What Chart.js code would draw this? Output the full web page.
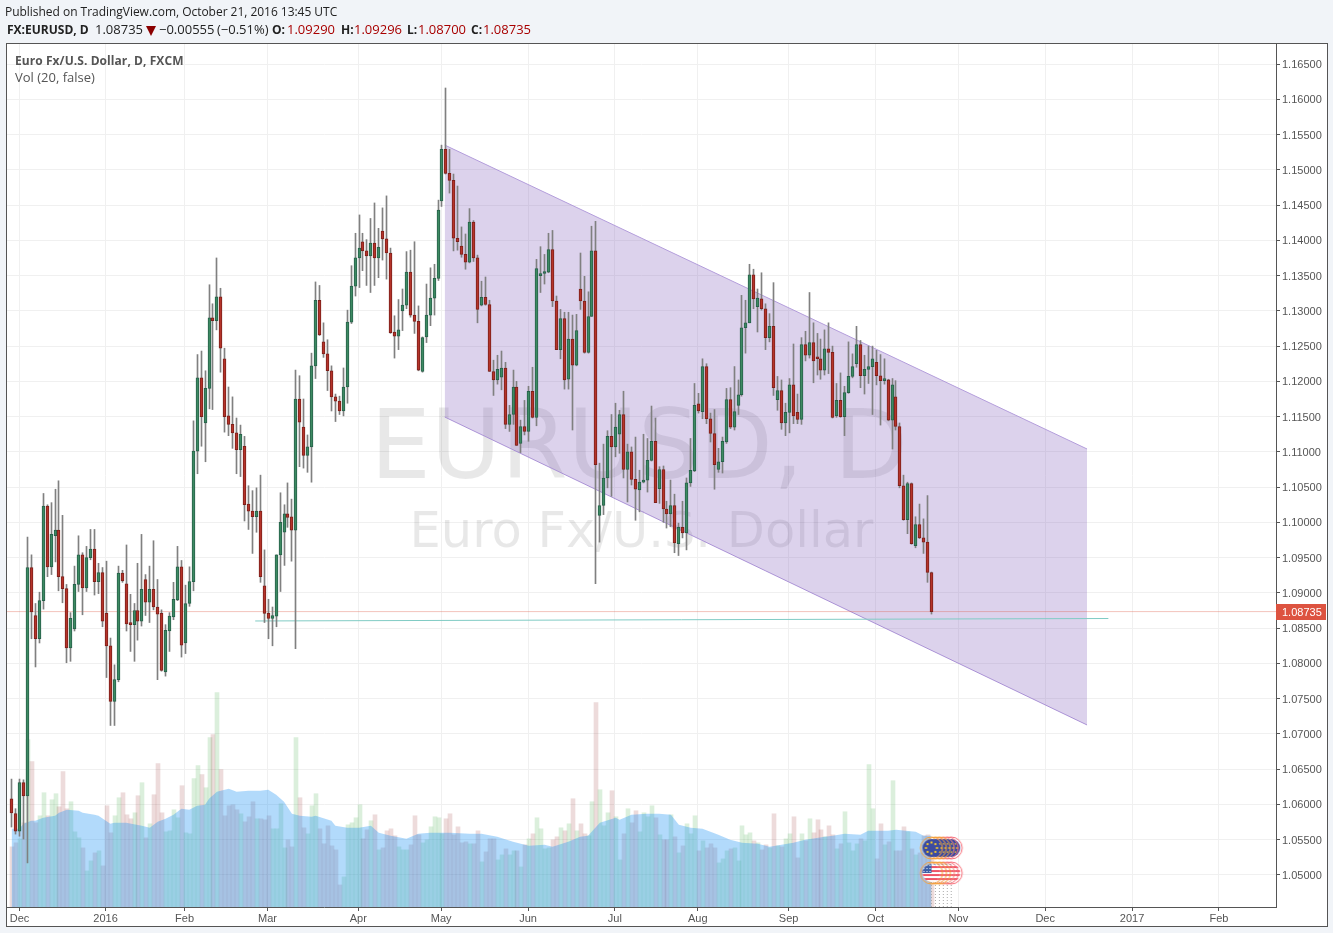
<!DOCTYPE html>
<html>
<head>
<meta charset="utf-8">
<title>EURUSD</title>
<script src="https://cdn.jsdelivr.net/npm/chart.js@4"></script>
<style>
  html, body { margin: 0; padding: 0; background: #f1f4f8; }
  body { width: 1333px; height: 933px; overflow: hidden; position: relative; font-family: "Open Sans", sans-serif; }
  #frame { position: absolute; left: 6px; top: 43px; width: 1320px; height: 882px; border: 1px solid #555; background: #fff; }
  #myChart { position: absolute; left: 0; top: 0; }
  .line { position: absolute; white-space: nowrap; font-size: 12px; color: #222; }
  .num { font-size: 13px; top: 20px; }
  .lab { font-weight: bold; top: 21px; }
  .red { color: #a80000; }
  .legend { color: #555; }
  #arrow { position: absolute; left: 146px; top: 26px; width: 0; height: 0; border-left: 5px solid transparent; border-right: 5px solid transparent; border-top: 10px solid #8b0000; }
</style>
</head>
<body>
<div id="frame"></div>
<canvas id="myChart" width="1333" height="933"></canvas>
<div class="line" style="left:5px;top:3px;letter-spacing:-0.03px">Published on TradingView.com, October 21, 2016 13:45 UTC</div>
<div class="line lab" style="left:7px">FX:EURUSD, D</div>
<div class="line num" style="left:95px">1.08735</div>
<div id="arrow"></div>
<div class="line num" style="left:159px">&minus;0.00555</div>
<div class="line num" style="left:217px">(&minus;0.51%)</div>
<div class="line lab" style="left:272px">O:</div>
<div class="line num red" style="left:287px">1.09290</div>
<div class="line lab" style="left:341px">H:</div>
<div class="line num red" style="left:354px">1.09296</div>
<div class="line lab" style="left:407px">L:</div>
<div class="line num red" style="left:418px">1.08700</div>
<div class="line lab" style="left:471px">C:</div>
<div class="line num red" style="left:483px">1.08735</div>
<div class="line legend" style="left:15px;top:52px;letter-spacing:0.07px"><b>Euro Fx/U.S. Dollar, D, FXCM</b></div>
<div class="line legend" style="left:15px;top:68px;font-size:13px">Vol (20, false)</div>

<script>
// daily bars
const opens = [
1.0608,1.0587,1.0562,1.0631,1.0612,1.0936,1.0868,1.0835,1.0889,1.1023,
1.0937,1.0981,1.0989,1.0923,1.0906,1.0822,1.0849,1.0912,1.0954,1.0907,
1.0950,1.0962,1.0916,1.0929,1.0871,1.0825,1.0746,1.0777,1.0928,1.0913,
1.0857,1.0855,1.0875,1.0860,1.0919,1.0887,1.0905,1.0880,1.0871,1.0788,
1.0846,1.0866,1.0890,1.0937,1.0829,1.0885,1.0916,1.1101,1.1205,1.1141,
1.1190,1.1290,1.1286,1.1320,1.1232,1.1151,1.1139,1.1127,1.1103,1.1108,
1.1026,1.1016,1.1008,1.1016,1.0910,1.0871,1.0864,1.0867,1.0954,1.0986,
1.1012,1.1008,1.0989,1.1175,1.1135,1.1095,1.1107,1.1222,1.1315,1.1256,
1.1239,1.1215,1.1178,1.1172,1.1158,1.1192,1.1284,1.1335,1.1375,1.1398,
1.1385,1.1378,1.1396,1.1375,1.1413,1.1402,1.1382,1.1270,1.1264,1.1300,
1.1308,1.1355,1.1294,1.1285,1.1214,1.1263,1.1294,1.1318,1.1346,1.1456,
1.1529,1.1495,1.1485,1.1403,1.1392,1.1380,1.1369,1.1426,1.1375,1.1308,
1.1319,1.1309,1.1214,1.1202,1.1206,1.1219,1.1139,1.1153,1.1192,1.1112,
1.1136,1.1129,1.1186,1.1149,1.1350,1.1353,1.1355,1.1387,1.1314,1.1245,
1.1289,1.1203,1.1260,1.1223,1.1331,1.1314,1.1241,1.1292,1.1385,1.1010,
1.1024,1.1063,1.1122,1.1107,1.1125,1.1153,1.1075,1.1100,1.1061,1.1046,
1.1057,1.1060,1.1088,1.1115,1.1048,1.1075,1.1019,1.1012,1.1024,1.0970,
1.0993,1.0985,1.1056,1.1073,1.1168,1.1157,1.1221,1.1147,1.1126,1.1075,
1.1086,1.1114,1.1174,1.1135,1.1166,1.1181,1.1276,1.1283,1.1351,1.1306,
1.1317,1.1303,1.1262,1.1278,1.1174,1.1187,1.1141,1.1156,1.1195,1.1156,
1.1146,1.1252,1.1237,1.1255,1.1234,1.1232,1.1216,1.1246,1.1241,1.1151,
1.1173,1.1150,1.1184,1.1207,1.1225,1.1252,1.1208,1.1217,1.1221,1.1227,
1.1208,1.1201,1.1202,1.1145,1.1178,1.1136,1.1052,1.1004,1.1055,1.0967,
1.0997,1.0978,1.0972,1.0929];
const closes = [
1.0588,1.0562,1.0631,1.0612,1.0936,1.0873,1.0835,1.0889,1.1023,1.0937,
1.0983,1.0989,1.0923,1.0906,1.0822,1.0864,1.0912,1.0954,1.0907,1.0950,
1.0962,1.0916,1.0929,1.0860,1.0825,1.0746,1.0777,1.0928,1.0917,1.0856,
1.0855,1.0875,1.0860,1.0905,1.0887,1.0905,1.0880,1.0870,1.0790,1.0847,
1.0867,1.0891,1.0937,1.0826,1.0885,1.0916,1.1101,1.1205,1.1150,1.1190,
1.1290,1.1286,1.1320,1.1247,1.1150,1.1139,1.1127,1.1103,1.1125,1.1025,
1.1016,1.1008,1.1016,1.0923,1.0871,1.0864,1.0868,1.0954,1.1000,1.1012,
1.1007,1.0989,1.1175,1.1142,1.1095,1.1107,1.1222,1.1315,1.1266,1.1239,
1.1215,1.1178,1.1172,1.1158,1.1192,1.1284,1.1335,1.1375,1.1389,1.1385,
1.1378,1.1396,1.1375,1.1390,1.1402,1.1382,1.1269,1.1264,1.1273,1.1308,
1.1355,1.1294,1.1285,1.1216,1.1262,1.1294,1.1318,1.1346,1.1443,1.1529,
1.1495,1.1485,1.1403,1.1398,1.1380,1.1369,1.1426,1.1375,1.1302,1.1319,
1.1309,1.1214,1.1202,1.1217,1.1219,1.1139,1.1153,1.1192,1.1109,1.1136,
1.1129,1.1186,1.1149,1.1360,1.1353,1.1355,1.1387,1.1314,1.1245,1.1289,
1.1202,1.1260,1.1223,1.1272,1.1314,1.1241,1.1292,1.1385,1.1082,1.1024,
1.1063,1.1122,1.1107,1.1135,1.1153,1.1075,1.1100,1.1061,1.1047,1.1057,
1.1060,1.1088,1.1115,1.1028,1.1075,1.1019,1.1012,1.1024,1.0971,1.0993,
1.0985,1.1056,1.1074,1.1166,1.1158,1.1221,1.1147,1.1126,1.1082,1.1086,
1.1115,1.1174,1.1135,1.1157,1.1181,1.1276,1.1283,1.1351,1.1317,1.1318,
1.1303,1.1262,1.1278,1.1191,1.1187,1.1141,1.1156,1.1195,1.1151,1.1146,
1.1252,1.1237,1.1255,1.1229,1.1232,1.1216,1.1246,1.1241,1.1149,1.1173,
1.1150,1.1184,1.1207,1.1221,1.1252,1.1208,1.1217,1.1221,1.1232,1.1208,
1.1201,1.1202,1.1145,1.1195,1.1136,1.1052,1.1004,1.1055,1.0970,1.0997,
1.0978,1.0972,1.0929,1.08735];
const highs = [
1.0636,1.0594,1.0636,1.0635,1.0979,1.0954,1.0885,1.0901,1.1041,1.1025,
1.1028,1.1047,1.1059,1.1010,1.0912,1.0872,1.0938,1.0981,1.0957,1.0966,
1.0990,1.0990,1.0942,1.0936,1.0945,1.0836,1.0798,1.0938,1.0932,1.0968,
1.0898,1.0885,1.0942,1.0983,1.0926,1.0938,1.0974,1.0919,1.0876,1.0855,
1.0872,1.0915,1.0966,1.0946,1.0911,1.0937,1.1144,1.1238,1.1243,1.1215,
1.1337,1.1310,1.1375,1.1332,1.1247,1.1192,1.1178,1.1148,1.1138,1.1122,
1.1052,1.1045,1.1049,1.1067,1.0961,1.0891,1.0880,1.0954,1.1042,1.1025,
1.1056,1.1033,1.1216,1.1208,1.1175,1.1124,1.1240,1.1341,1.1336,1.1283,
1.1259,1.1222,1.1182,1.1179,1.1219,1.1301,1.1364,1.1410,1.1436,1.1410,
1.1401,1.1431,1.1453,1.1417,1.1446,1.1463,1.1389,1.1293,1.1316,1.1331,
1.1384,1.1386,1.1398,1.1307,1.1263,1.1338,1.1361,1.1366,1.1457,1.1535,
1.1616,1.1529,1.1494,1.1477,1.1419,1.1409,1.1445,1.1428,1.1379,1.1342,
1.1348,1.1315,1.1230,1.1237,1.1243,1.1227,1.1166,1.1216,1.1200,1.1145,
1.1173,1.1193,1.1220,1.1373,1.1391,1.1380,1.1410,1.1414,1.1321,1.1302,
1.1298,1.1298,1.1294,1.1295,1.1382,1.1349,1.1327,1.1420,1.1427,1.1084,
1.1111,1.1130,1.1153,1.1169,1.1159,1.1186,1.1111,1.1107,1.1121,1.1074,
1.1125,1.1119,1.1165,1.1148,1.1079,1.1080,1.1030,1.1060,1.1040,1.0999,
1.1030,1.1063,1.1119,1.1197,1.1183,1.1232,1.1225,1.1155,1.1160,1.1105,
1.1121,1.1190,1.1191,1.1221,1.1202,1.1322,1.1315,1.1366,1.1359,1.1331,
1.1354,1.1310,1.1296,1.1340,1.1207,1.1202,1.1169,1.1204,1.1253,1.1182,
1.1262,1.1271,1.1326,1.1283,1.1268,1.1260,1.1273,1.1283,1.1250,1.1197,
1.1212,1.1193,1.1256,1.1239,1.1278,1.1258,1.1237,1.1250,1.1250,1.1244,
1.1238,1.1232,1.1203,1.1204,1.1201,1.1141,1.1067,1.1057,1.1056,1.1008,
1.1026,1.1005,1.1038,1.09296];
const lows = [
1.0568,1.0558,1.0555,1.0551,1.0517,1.0835,1.0795,1.0829,1.0877,1.0923,
1.0926,1.0944,1.0903,1.0886,1.0801,1.0803,1.0846,1.0902,1.0869,1.0902,
1.0947,1.0897,1.0899,1.0852,1.0780,1.0712,1.0712,1.0774,1.0915,1.0846,
1.0817,1.0803,1.0833,1.0853,1.0868,1.0858,1.0876,1.0777,1.0789,1.0782,
1.0817,1.0862,1.0889,1.0809,1.0814,1.0881,1.0903,1.1069,1.1108,1.1086,
1.1161,1.1160,1.1273,1.1213,1.1128,1.1123,1.1105,1.1069,1.1065,1.1002,
1.0990,1.0956,1.0986,1.0915,1.0858,1.0835,1.0825,1.0852,1.0902,1.0939,
1.0993,1.0945,1.0821,1.1079,1.1077,1.1071,1.1057,1.1204,1.1265,1.1234,
1.1187,1.1158,1.1143,1.1153,1.1151,1.1169,1.1282,1.1321,1.1333,1.1357,
1.1336,1.1326,1.1336,1.1347,1.1372,1.1345,1.1268,1.1233,1.1245,1.1272,
1.1303,1.1291,1.1268,1.1215,1.1213,1.1255,1.1279,1.1294,1.1343,1.1448,
1.1494,1.1467,1.1385,1.1386,1.1376,1.1359,1.1368,1.1370,1.1283,1.1307,
1.1308,1.1214,1.1180,1.1196,1.1188,1.1133,1.1129,1.1139,1.1109,1.1099,
1.1124,1.1115,1.1148,1.1137,1.1326,1.1338,1.1354,1.1306,1.1245,1.1232,
1.1189,1.1189,1.1131,1.1222,1.1302,1.1240,1.1240,1.1292,1.0913,1.0972,
1.1011,1.1049,1.1037,1.1093,1.1098,1.1063,1.1029,1.1053,1.1003,1.1015,
1.1056,1.1043,1.1087,1.1028,1.1027,1.1000,1.0992,1.0994,1.0957,1.0953,
1.0978,1.0961,1.1051,1.1072,1.1155,1.1147,1.1140,1.1114,1.1047,1.1071,
1.1070,1.1112,1.1133,1.1131,1.1153,1.1179,1.1240,1.1283,1.1303,1.1270,
1.1301,1.1245,1.1256,1.1180,1.1159,1.1132,1.1123,1.1127,1.1140,1.1140,
1.1139,1.1229,1.1233,1.1198,1.1209,1.1203,1.1209,1.1211,1.1148,1.1149,
1.1149,1.1123,1.1183,1.1205,1.1220,1.1191,1.1182,1.1197,1.1153,1.1195,
1.1138,1.1196,1.1144,1.1104,1.1131,1.1049,1.1003,1.0984,1.0969,1.0964,
1.0977,1.0956,1.0915,1.0870];
// volume, thousands (no scale on the picture, so relative)
const volumes = [
60,64,68,84,167,145,84,91,114,91,
107,113,100,135,98,105,75,69,59,36,
46,54,56,41,101,74,91,109,114,92,
88,94,111,124,69,83,112,143,94,75,
76,97,89,121,74,73,128,141,132,119,
169,172,214,137,91,101,102,97,93,85,
90,105,88,88,87,91,78,78,103,59,
67,60,169,109,79,73,101,113,78,63,
81,61,57,22,30,82,84,89,102,68,
77,86,92,57,59,76,78,71,60,57,
57,62,91,72,64,67,80,90,89,73,
88,93,72,80,64,65,63,63,76,45,
55,68,68,47,52,58,52,56,56,40,
62,68,73,89,78,58,59,67,70,79,
76,83,108,76,83,73,71,105,204,117,
81,94,116,90,47,73,98,84,96,75,
94,90,101,89,72,67,67,92,70,54,
61,83,73,91,56,66,59,63,59,44,
48,56,58,59,46,81,72,74,66,64,
57,62,59,93,61,60,68,73,90,49,
73,66,88,74,87,77,70,81,72,58,
63,95,64,56,63,68,66,142,98,48,
83,62,65,126,56,56,80,75,58,52,
54,71,72,56];
// volume average, read at these bars
const smaBars = [0,2,3,5,6,8,11,12,14,17,18,21,22,25,26,29,33,35,37,39,41,43,45,47,49,50,52,55,57,60,63,65,67,69,71,73,76,77,81,82,85,88,91,93,96,100,103,106,111,116,119,123,127,131,135,137,141,144,146,149,153,154,157,161,164,167,169,172,175,179,182,185,189,192,195,198,201,206,208,211,215,217,222,224,229,231,233];
const smaValues = [78,78,83,86,86,89,91,94,97,96,94,92,91,83,84,84,81,79,85,88,92,98,97,101,102,108,115,118,115,116,116,117,112,105,93,91,90,91,86,81,79,79,81,74,71,68,73,74,74,73,73,70,65,61,62,60,65,70,71,84,89,87,92,93,93,92,82,79,78,72,67,64,63,60,62,64,67,70,71,73,72,76,76,77,75,71,71];

const priceTicks = [1.05,1.055,1.06,1.065,1.07,1.075,1.08,1.085,1.09,1.095,1.1,1.105,1.11,1.115,1.12,1.125,1.13,1.135,1.14,1.145,1.15,1.155,1.16,1.165];
const monthBars = [2,23.8,43.8,64.8,87.8,108.8,130.8,152.8,173.8,196.8,218.8,239.8,261.8,283.8,305.8];
const monthLabels = ["Dec","2016","Feb","Mar","Apr","May","Jun","Jul","Aug","Sep","Oct","Nov","Dec","2017","Feb"];

// hand drawn objects on the chart
const channelBars = [109.7,272.4];
const channelTop = [1.15351,1.11041];
const channelBottom = [1.11494,1.07127];
const supportBars = [61.7,277.8];
const supportPrices = [1.08602,1.08637];
const lastPrice = 1.08735;
const eventBars = [233,234,235,236,237,238];
const euEventPrice = 1.05383;
const usEventPrice = 1.05028;

const xFrom = -1.17;
const xTo = 320.26;
const priceFrom = 1.04546;
const priceTo = 1.16784;

const upBody = "#3d8a62", upEdge = "#26604a";
const downBody = "#b5342a", downEdge = "#7c1f1a";

const bars = opens.map((o, i) => i);
const isUp = i => closes[i] >= opens[i];

function makeFlag(kind, ring) {
  const c = document.createElement("canvas");
  c.width = 26; c.height = 26;
  const g = c.getContext("2d");
  g.beginPath();
  g.arc(13, 13, 9, 0, Math.PI * 2);
  g.save();
  g.clip();
  if (kind == "eu") {
    g.fillStyle = "#3c4ba0";
    g.fillRect(0, 0, 26, 26);
    g.fillStyle = "#f0c52e";
    for (let k = 0; k < 8; k++) {
      const a = k * Math.PI / 4;
      g.fillRect(12 + Math.cos(a) * 5.5, 12 + Math.sin(a) * 5.5, 2, 2);
    }
  } else {
    g.fillStyle = "#fff";
    g.fillRect(0, 0, 26, 26);
    g.fillStyle = "#ee5366";
    for (let k = 0; k < 4; k++) g.fillRect(0, 6 + k * 4, 26, 2);
    g.fillStyle = "#3c5fa8";
    g.fillRect(3, 3, 10, 10);
    g.fillStyle = "#fff";
    for (let a = 0; a < 3; a++) for (let b = 0; b < 3; b++) g.fillRect(5 + a * 3, 5 + b * 3, 1, 1);
  }
  g.restore();
  g.beginPath();
  g.arc(13, 13, 11, 0, Math.PI * 2);
  g.lineWidth = 1;
  g.strokeStyle = ring;
  g.stroke();
  return c;
}

// leftmost flag goes on top, so the list runs right to left
const ringColors = ["#f5a03c","#f5a03c","#f5a03c","#f78a7a","#f7707a","#f7707a"];
const flagOrder = eventBars.map((b, i) => i).reverse();
const euFlags = flagOrder.map(i => makeFlag("eu", ringColors[i]));
const usFlags = flagOrder.map(i => makeFlag("us", ringColors[i]));

// bars land on whole pixels in the original, wicks would go blurry otherwise
const snapBars = {
  id: "snapBars",
  afterDatasetsUpdate(chart) {
    chart.getSortedVisibleDatasetMetas().forEach(meta => {
      if (meta.type != "bar") return;
      const volume = meta.yAxisID == "yVol";
      meta.data.forEach(el => {
        el.x = Math.floor(el.x) + (volume ? 1 : 0.5);
      });
    });
  }
};

const watermark = {
  id: "watermark",
  beforeDatasetsDraw(chart) {
    const ctx = chart.ctx;
    ctx.save();
    ctx.fillStyle = "rgba(0,0,0,0.09)";
    ctx.textAlign = "center";
    ctx.textBaseline = "alphabetic";
    ctx.font = '96px "DejaVu Sans"';
    ctx.fillText("EURUSD, D", 639, 478);
    ctx.font = '49.5px "DejaVu Sans"';
    ctx.fillText("Euro Fx/U.S. Dollar", 641.5, 547);
    ctx.restore();
  }
};

const priceTag = {
  id: "priceTag",
  afterDraw(chart) {
    const ctx = chart.ctx;
    const y = Math.round(chart.scales.y.getPixelForValue(lastPrice));
    ctx.save();
    ctx.fillStyle = "#dd5340";
    ctx.fillRect(1276, y - 8, 50, 16);
    ctx.fillStyle = "#fff";
    ctx.font = '11px "Liberation Sans"';
    ctx.textBaseline = "middle";
    ctx.fillText(lastPrice.toFixed(5), 1282, y + 1);
    ctx.restore();
  }
};

const line = (xs, ys, color, extra) => Object.assign({
  type: "line",
  data: xs.map((x, i) => ({ x: x, y: ys[i] })),
  borderColor: color,
  borderWidth: 1,
  pointRadius: 0,
  yAxisID: "y"
}, extra);

const datasets = [
  {
    type: "bar",
    data: bars.map(i => ({ x: i, y: volumes[i] })),
    yAxisID: "yVol",
    order: 9,
    barThickness: 4,
    backgroundColor: bars.map(i => isUp(i) ? "rgba(76,175,80,0.2)" : "rgba(140,28,28,0.155)")
  },
  {
    type: "line",
    data: smaBars.map((b, i) => ({ x: b, y: smaValues[i] })),
    yAxisID: "yVol",
    order: 8,
    borderWidth: 0,
    pointRadius: 0,
    fill: "origin",
    backgroundColor: "rgba(33,150,243,0.35)"
  },
  line(channelBars, channelTop, "#b39ddb", { order: 7, fill: "+1", backgroundColor: "rgba(120,82,180,0.26)" }),
  line(channelBars, channelBottom, "#b39ddb", { order: 7 }),
  line([xFrom, xTo], [lastPrice, lastPrice], "rgba(221,83,64,0.35)", { order: 6 }),
  line(supportBars, supportPrices, "#80cbc4", { order: 6 }),
  {
    type: "bar",
    data: bars.map(i => ({ x: i, y: [lows[i], highs[i]] })),
    yAxisID: "y",
    order: 5,
    barThickness: 1,
    minBarLength: 1,
    backgroundColor: "#808080"
  },
  {
    type: "bar",
    data: bars.map(i => ({ x: i, y: [opens[i], closes[i]] })),
    yAxisID: "y",
    order: 4,
    barThickness: 3,
    minBarLength: 2,
    borderWidth: 1,
    borderSkipped: false,
    backgroundColor: bars.map(i => isUp(i) ? upBody : downBody),
    borderColor: bars.map(i => isUp(i) ? upEdge : downEdge)
  },
  {
    type: "line",
    data: flagOrder.map(i => ({ x: eventBars[i], y: euEventPrice })),
    yAxisID: "y",
    order: 2,
    showLine: false,
    pointStyle: euFlags
  },
  {
    type: "line",
    data: flagOrder.map(i => ({ x: eventBars[i], y: usEventPrice })),
    yAxisID: "y",
    order: 2,
    showLine: false,
    pointStyle: usFlags
  }
];

// dotted drops under the events
eventBars.forEach(b => {
  datasets.push(line([b, b], [usEventPrice, priceFrom], "#aaaaaa", { order: 3, borderDash: [1, 2] }));
});

new Chart(document.getElementById("myChart"), {
  data: { datasets: datasets },
  plugins: [snapBars, watermark, priceTag],
  options: {
    responsive: false,
    animation: false,
    events: [],
    layout: { padding: { left: 7, top: 44, right: 7, bottom: 8 } },
    datasets: { bar: { grouped: false } },
    plugins: { legend: { display: false }, tooltip: { enabled: false } },
    scales: {
      x: {
        type: "linear",
        offset: false,
        min: xFrom,
        max: xTo,
        afterBuildTicks(scale) { scale.ticks = monthBars.map(v => ({ value: v })); },
        afterFit(scale) { scale.height = 18; },
        grid: { offset: false, color: "#f0f0f0", tickColor: "#555", tickLength: 4 },
        border: { color: "#555" },
        ticks: {
          autoSkip: false,
          maxRotation: 0,
          padding: 1,
          color: "#555",
          font: { family: "Liberation Sans", size: 11 },
          callback: (v, i) => monthLabels[i]
        }
      },
      y: {
        position: "right",
        min: priceFrom,
        max: priceTo,
        afterBuildTicks(scale) { scale.ticks = priceTicks.map(v => ({ value: v })); },
        afterFit(scale) { scale.width = 50; },
        grid: { color: "#f0f0f0", tickColor: "#555", tickLength: 4 },
        border: { color: "#555" },
        ticks: {
          autoSkip: false,
          padding: 2,
          labelOffset: 1,
          color: "#555",
          font: { family: "Liberation Sans", size: 11 },
          callback: v => v.toFixed(5)
        }
      },
      yVol: { display: false, min: 0, max: 861 }
    }
  }
});
</script>
</body>
</html>
